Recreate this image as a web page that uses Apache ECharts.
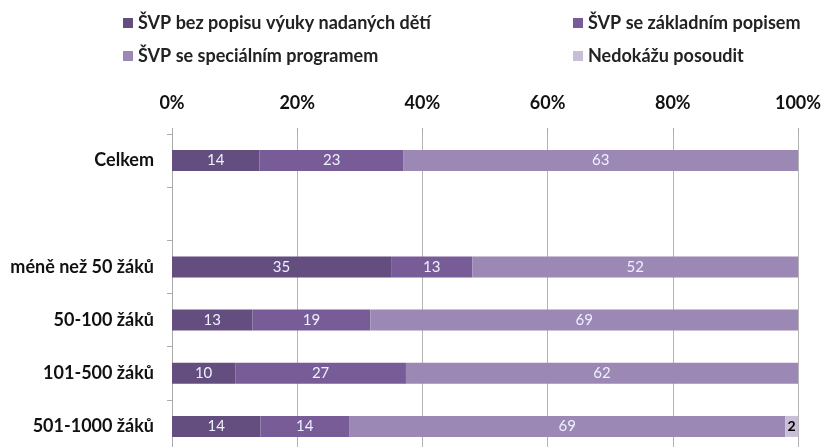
<!DOCTYPE html>
<html>
<head>
<meta charset="utf-8">
<script src="https://cdn.jsdelivr.net/npm/echarts@6/dist/echarts.min.js"></script>
<style>
html,body{margin:0;padding:0;background:#fff;}
#chart{width:823px;height:447px;}
</style>
</head>
<body>
<div id="chart"></div>
<script>
var categories = ['Celkem', '', 'méně než 50 žáků', '50-100 žáků', '101-500 žáků', '501-1000 žáků'];
var seriesNames = ['ŠVP bez popisu výuky nadaných dětí', 'ŠVP se základním popisem', 'ŠVP se speciálním programem', 'Nedokážu posoudit'];
var bezPopisu = [14, null, 35, 13, 10, 14];
var zakladni = [23, null, 13, 19, 27, 14];
var specialni = [63, null, 52, 69, 62, 69];
var nedokazu = [0, null, 0, 0, 0, 2];
var tickLabels = ['0%', '20%', '40%', '60%', '80%', '100%'];
var colors = ['#634e7f', '#785c98', '#9b88b4', '#c8bed7'];

var raw = [bezPopisu, zakladni, specialni, nedokazu];
var totals = categories.map(function (c, i) {
  var s = 0; raw.forEach(function (a) { s += a[i] || 0; }); return s;
});

var font = 'Lato, "Open Sans", sans-serif';

var series = raw.map(function (arr, k) {
  return {
    name: seriesNames[k],
    type: 'bar',
    stack: 'total',
    barWidth: 21,
    itemStyle: { color: colors[k] },
    data: arr.map(function (v, i) {
      if (v === null || !totals[i]) return { value: null, raw: null };
      return { value: v / totals[i] * 100, raw: v };
    }),
    label: {
      show: true,
      position: 'inside',
      fontFamily: font,
      fontSize: k === 3 ? 14 : 15,
      fontWeight: k === 3 ? 'bold' : 'normal',
      color: k === 3 ? '#000' : '#eef0ff',
      formatter: function (p) {
        return (p.data.raw ? String(p.data.raw) : '');
      }
    }
  };
});

var chart = echarts.init(document.getElementById('chart'));
chart.setOption({
  animation: false,
  color: colors,
  legend: [
    {
      data: [seriesNames[0], seriesNames[2]],
      orient: 'vertical',
      left: 118, top: 9,
      itemWidth: 10, itemHeight: 10, itemGap: 15,
      icon: 'rect',
      textStyle: { fontFamily: font, fontSize: 18, fontWeight: 'bold', color: '#222' }
    },
    {
      data: [seriesNames[1], seriesNames[3]],
      orient: 'vertical',
      left: 568, top: 9,
      itemWidth: 10, itemHeight: 10, itemGap: 15,
      icon: 'rect',
      textStyle: { fontFamily: font, fontSize: 18, fontWeight: 'bold', color: '#222' }
    }
  ],
  grid: { left: 172, right: 25, top: 134, height: 319, containLabel: false, outerBoundsMode: 'none' },
  xAxis: {
    type: 'value',
    position: 'top',
    min: 0, max: 100, interval: 20,
    axisLine: { show: false },
    axisTick: { show: true, length: 6, lineStyle: { color: '#aaa' } },
    splitLine: { show: true, lineStyle: { color: '#b4b4b4', width: 1 } },
    axisLabel: {
      margin: 22,
      fontFamily: font, fontSize: 18, fontWeight: 'bold', color: '#111',
      formatter: function (v) { return tickLabels[Math.round(v / 20)]; }
    }
  },
  yAxis: {
    type: 'category',
    inverse: true,
    data: categories,
    axisLine: { show: true, lineStyle: { color: '#aaa' } },
    axisTick: { show: true, length: 5, lineStyle: { color: '#aaa' } },
    axisLabel: {
      margin: 18,
      fontFamily: font, fontSize: 18, fontWeight: 'bold', color: '#111'
    }
  },
  series: series
});
</script>
</body>
</html>
